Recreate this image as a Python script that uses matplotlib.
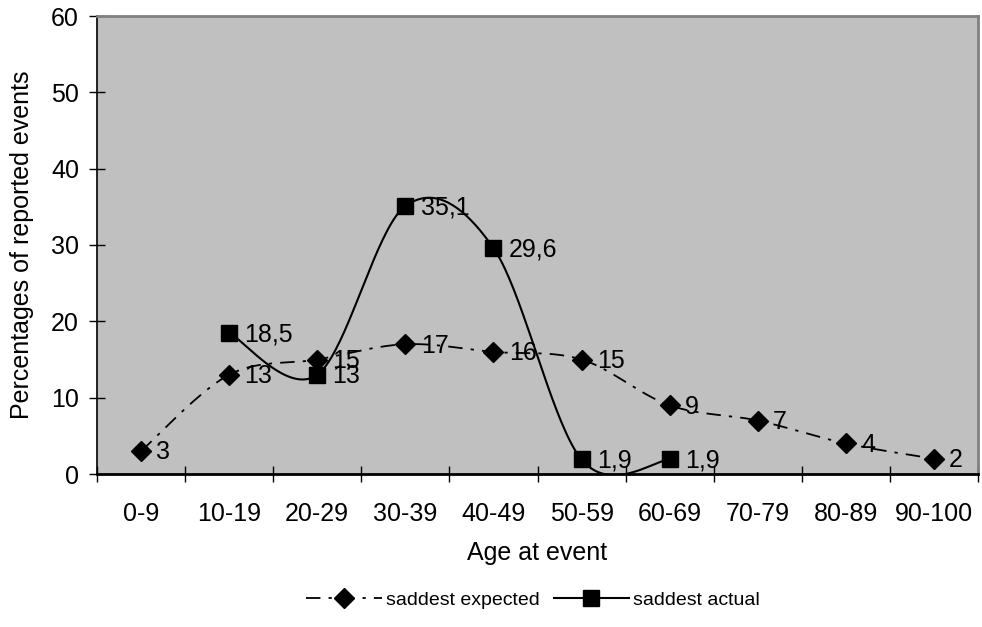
import numpy as np
import matplotlib
matplotlib.use("Agg")
import matplotlib.pyplot as plt
from matplotlib.lines import Line2D

plt.rcParams['font.family'] = ['Liberation Sans', 'DejaVu Sans']

categories = ["0-9", "10-19", "20-29", "30-39", "40-49", "50-59",
              "60-69", "70-79", "80-89", "90-100"]
expected = [3, 13, 15, 17, 16, 15, 9, 7, 4, 2]
expected_labels = ["3", "13", "15", "17", "16", "15", "9", "7", "4", "2"]
actual_categories = ["10-19", "20-29", "30-39", "40-49", "50-59", "60-69"]
actual = [18.5, 13, 35.1, 29.6, 1.9, 1.9]
actual_labels = ["18,5", "13", "35,1", "29,6", "1,9", "1,9"]


def smooth(x, y, n=40):
    """Cardinal Bezier smoothing through every point (spreadsheet style)."""
    x = np.asarray(x, float)
    y = np.asarray(y, float)
    pts = np.column_stack([x, y])
    out = [pts[0]]
    m = len(pts)
    t = np.linspace(0, 1, n)[1:, None]
    for i in range(m - 1):
        p0 = pts[i - 1] if i > 0 else pts[i]
        p1 = pts[i]
        p2 = pts[i + 1]
        p3 = pts[i + 2] if i + 2 < m else pts[i + 1]
        c1 = p1 + (p2 - p0) / 6.0
        c2 = p2 - (p3 - p1) / 6.0
        seg = ((1 - t) ** 3) * p1 + 3 * ((1 - t) ** 2) * t * c1 \
            + 3 * (1 - t) * t ** 2 * c2 + t ** 3 * p2
        out.extend(seg)
    out = np.array(out)
    return out[:, 0], out[:, 1]


fig = plt.figure(figsize=(9.82, 6.27), dpi=100)
ax = fig.add_axes([97 / 982, 1 - 474 / 627, 881 / 982, 458 / 627])
ax.set_facecolor("#C0C0C0")

xe = np.arange(len(categories))
xa = np.array([categories.index(c) for c in actual_categories])

dash = (8, 4.5, 1.8, 4.5)
sx, sy = smooth(xe, expected)
ax.plot(sx, sy, color="black", lw=1.3, dashes=dash, zorder=3)
ax.plot(xe, expected, ls="none", marker="D", ms=10, color="black", zorder=4)

sx, sy = smooth(xa, actual)
ax.plot(sx, sy, color="black", lw=1.5, zorder=3)
ax.plot(xa, actual, ls="none", marker="s", ms=11, color="black", zorder=4)

for x, y, s in zip(xe, expected, expected_labels):
    ax.annotate(s, (x, y), xytext=(11, -1), textcoords="offset points",
                ha="left", va="center", fontsize=18, zorder=5)
for x, y, s in zip(xa, actual, actual_labels):
    ax.annotate(s, (x, y), xytext=(11, -1), textcoords="offset points",
                ha="left", va="center", fontsize=18, zorder=5)

ax.set_xlim(-0.5, len(categories) - 0.5)
ax.set_ylim(0, 60)
ax.set_yticks(np.arange(0, 61, 10))
ax.set_xticks(np.arange(-0.5, len(categories), 1.0))
ax.set_xticklabels([])
ax.set_xticks(xe, minor=True)
ax.set_xticklabels(categories, minor=True)
ax.tick_params(axis="x", which="major", direction="inout", length=12,
               width=1, color="black")
ax.tick_params(axis="x", which="minor", length=0, pad=20, labelsize=18)
ax.tick_params(axis="y", direction="inout", length=12, width=1,
               labelsize=18, pad=7)

for side in ("top", "right"):
    ax.spines[side].set_color("#808080")
    ax.spines[side].set_linewidth(2)
ax.spines["left"].set_color("black")
ax.spines["left"].set_linewidth(1.2)
ax.spines["bottom"].set_color("black")
ax.spines["bottom"].set_linewidth(2)

ax.set_xlabel("Age at event", fontsize=18)
ax.xaxis.set_label_coords(0.5, (474 - 553) / 458)
ax.xaxis.label.set_va("center")
ax.set_ylabel("Percentages of reported events", fontsize=18)
ax.yaxis.set_label_coords((22 - 97) / 881, 0.5)
ax.yaxis.label.set_va("center")

handles = [
    Line2D([], [], color="black", lw=1.3, dashes=dash, marker="D", ms=10),
    Line2D([], [], color="black", lw=1.5, marker="s", ms=11),
]
fig.legend(handles, ["saddest expected", "saddest actual"], loc="center",
           bbox_to_anchor=(0.543, 0.043), ncol=2, frameon=False,
           fontsize=14, handlelength=3.9, handletextpad=0.2, columnspacing=0.7)

fig.savefig("out.png", dpi=100)
